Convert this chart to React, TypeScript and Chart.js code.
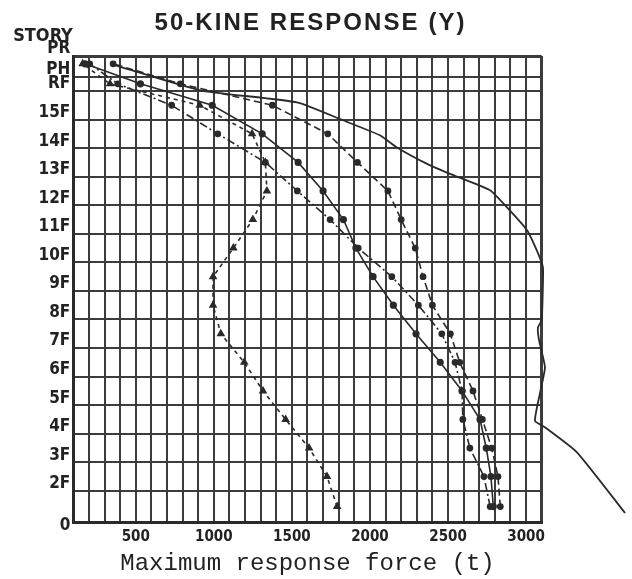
import React, { useEffect, useRef } from 'react';
import { Chart, registerables } from 'chart.js';

Chart.register(...registerables);

// ---- data ----
const storyLabels = ['0', '2F', '3F', '4F', '5F', '6F', '7F', '8F', '9F', '10F', '11F', '12F', '13F', '14F', '15F', 'RF', 'PH', 'PR'];
// floor elevations (m) for the labelled floor lines
const floorLevels = [0, 4.4, 8.4, 12.4, 16.4, 20.4, 24.4, 28.4, 32.4, 36.4, 40.4, 44.4, 48.4, 52.4, 56.4, 60.4, 62.4, 65.3];
// story mid-heights (m): 1F..15F, penthouse 1, penthouse 2
const storyMidHeights = [2.2, 6.4, 10.4, 14.4, 18.4, 22.4, 26.4, 30.4, 34.4, 38.4, 42.4, 46.4, 50.4, 54.4, 58.4, 61.4, 64.2];

// maximum response force (t) per story
const forceSolid = [2790, 2775, 2745, 2705, 2590, 2450, 2295, 2150, 2020, 1910, 1830, 1700, 1540, 1310, 990, 530, 175];
const forceDashDot = [2770, 2730, 2640, 2595, 2590, 2545, 2460, 2310, 2140, 1925, 1745, 1535, 1330, 1025, 730, 385, 205];
const forceDashed = [2835, 2820, 2780, 2720, 2660, 2575, 2515, 2400, 2340, 2290, 2200, 2115, 1920, 1730, 1375, 785, 355];
const forceTriangle = [1790, 1725, 1610, 1460, 1315, 1195, 1045, 995, 995, 1125, 1250, 1340, 1330, 1245, 910, 335, 160];

// plain solid curve (no markers)
const envelopeForce = [354, 912, 1533, 1827, 2064, 2173, 2366, 2513, 2769, 2878, 3006, 3076, 3108, 3108, 3100, 3076, 3083, 3121, 3089, 3057, 3121, 3326, 3634];
const envelopeHeight = [64.1, 60.5, 58.8, 56.3, 54.2, 52.5, 50.2, 48.8, 46.5, 44.1, 40.9, 37.7, 35.7, 33.5, 28.3, 27.3, 25.5, 21.7, 18.1, 14.2, 13.3, 9.8, 1.3];

const xTickLabels = [500, 1000, 1500, 2000, 2500, 3000];
const forceMin = 100;
const forceMax = 3100;
const forceStep = 100;

const titleText = '50-KINE RESPONSE (Y)';
const yHeading = 'STORY';
const xAxisTitle = 'Maximum response force (t)';

const INK = '#2a2a2a';
const GRID = '#3c3c3c';

function toPoints(xs: number[], ys: number[]) {
  return xs.map((x, i) => ({ x, y: ys[i] }));
}

const scanTextPlugin = {
  id: 'scanText',
  afterDraw(chart: any) {
    const ctx = chart.ctx;
    const area = chart.chartArea;
    ctx.save();
    ctx.fillStyle = '#222';
    ctx.textBaseline = 'middle';
    // title
    ctx.font = 'bold 24px "Liberation Sans", Arial, sans-serif';
    ctx.letterSpacing = '0px';
    const w0 = ctx.measureText(titleText).width;
    const targetW = 310;
    const ls = Math.max(0, (targetW - w0) / (titleText.length - 1));
    ctx.letterSpacing = ls.toFixed(2) + 'px';
    ctx.textAlign = 'center';
    ctx.fillText(titleText, (area.left + area.right) / 2 + ls / 2 + 2, 23);
    // y heading
    ctx.letterSpacing = '0px';
    ctx.font = 'bold 18px "DejaVu Sans Condensed", "DejaVu Sans", sans-serif';
    ctx.textAlign = 'center';
    ctx.fillText(yHeading, 43, 36);
    ctx.restore();
  },
};

export default function App() {
  const ref = useRef<HTMLCanvasElement | null>(null);

  useEffect(() => {
    document.body.style.margin = '0';
    const canvas = ref.current;
    if (!canvas) return;

    const lineBase = {
      borderColor: INK,
      backgroundColor: INK,
      pointBackgroundColor: INK,
      pointBorderColor: INK,
      borderWidth: 1.6,
      fill: false,
      tension: 0,
    };

    const chart = new Chart(canvas, {
      type: 'line',
      data: {
        datasets: [
          {
            ...lineBase,
            label: 'curve',
            data: toPoints(envelopeForce, envelopeHeight),
            pointRadius: 0,
            borderWidth: 1.8,
            tension: 0.15,
            clip: false,
          },
          {
            ...lineBase,
            label: 'solid',
            data: toPoints(forceSolid, storyMidHeights),
            pointRadius: 2.8,
            pointStyle: 'circle',
          },
          {
            ...lineBase,
            label: 'dash-dot',
            data: toPoints(forceDashDot, storyMidHeights),
            borderDash: [8, 3, 2, 3],
            pointRadius: 2.6,
            pointStyle: 'circle',
          },
          {
            ...lineBase,
            label: 'dashed',
            data: toPoints(forceDashed, storyMidHeights),
            borderDash: [7, 4],
            pointRadius: 2.6,
            pointStyle: 'circle',
          },
          {
            ...lineBase,
            label: 'triangle',
            data: toPoints(forceTriangle, storyMidHeights),
            borderDash: [4, 4],
            pointRadius: 3.4,
            pointStyle: 'triangle',
          },
        ],
      },
      options: {
        responsive: false,
        animation: false,
        events: [],
        layout: { padding: { left: 0, right: 90.3, top: 56, bottom: 0 } },
        plugins: {
          legend: { display: false },
          tooltip: { enabled: false },
          title: { display: false },
        },
        scales: {
          x: {
            type: 'linear',
            min: forceMin,
            max: forceMax,
            afterFit: (scale: any) => {
              scale.height = 56.7;
            },
            ticks: {
              stepSize: forceStep,
              maxTicksLimit: 60,
              autoSkip: false,
              maxRotation: 0,
              padding: 6,
              color: '#222',
              font: { family: '"DejaVu Sans Condensed", "DejaVu Sans", sans-serif', size: 15, weight: 'bold' },
              callback: (value: any) => (xTickLabels.includes(Number(value)) ? String(value) : ''),
            },
            grid: {
              drawTicks: false,
              color: GRID,
              lineWidth: (c: any) => (c.tick && c.tick.value === forceMax ? 3 : 2),
            },
            border: { display: true, color: INK, width: 3 },
            title: {
              display: true,
              text: xAxisTitle,
              color: '#222',
              font: { family: '"Liberation Mono", "DejaVu Sans Mono", monospace', size: 24 },
              padding: { top: 0, bottom: 1 },
            },
          },
          y: {
            type: 'linear',
            min: floorLevels[0],
            max: floorLevels[floorLevels.length - 1],
            afterFit: (scale: any) => {
              scale.width = 73.3;
            },
            afterBuildTicks: (scale: any) => {
              scale.ticks = floorLevels.map((v) => ({ value: v }));
            },
            ticks: {
              autoSkip: false,
              padding: 3,
              labelOffset: -7,
              color: '#222',
              font: { family: '"DejaVu Sans Condensed", "DejaVu Sans", sans-serif', size: 17, weight: 'bold' },
              callback: (_v: any, i: number) => (i === 0 ? ['', storyLabels[i]] : storyLabels[i]),
            },
            grid: {
              drawTicks: false,
              color: GRID,
              lineWidth: (c: any) => (c.tick && c.tick.value === floorLevels[floorLevels.length - 1] ? 3 : 2),
            },
            border: { display: true, color: INK, width: 3 },
          },
        },
      },
      plugins: [scanTextPlugin],
    } as any);

    return () => {
      chart.destroy();
    };
  }, []);

  return (
    <div style={{ width: 632, height: 579, background: '#fff' }}>
      <canvas ref={ref} width={632} height={579} style={{ display: 'block' }} />
    </div>
  );
}
